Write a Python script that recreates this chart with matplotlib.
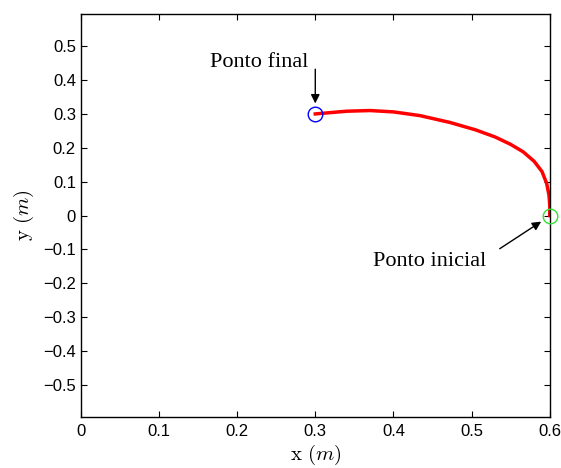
import numpy as np
import matplotlib.pyplot as plt

# trajectory
x_path = [0.600, 0.600, 0.599, 0.596, 0.590, 0.580, 0.566, 0.550, 0.530, 0.505,
          0.472, 0.434, 0.400, 0.370, 0.340, 0.315, 0.300]
y_path = [0.000, 0.030, 0.060, 0.095, 0.130, 0.160, 0.188, 0.210, 0.232, 0.253,
          0.275, 0.295, 0.306, 0.310, 0.308, 0.303, 0.300]
start = (0.6, 0.0)
end = (0.3, 0.3)
xticks = [0, 0.1, 0.2, 0.3, 0.4, 0.5, 0.6]
yticks = [-0.5, -0.4, -0.3, -0.2, -0.1, 0, 0.1, 0.2, 0.3, 0.4, 0.5]

plt.rcParams['mathtext.fontset'] = 'cm'

fig = plt.figure(figsize=(5.61, 4.68), dpi=100)
ax = fig.add_axes([0.144, 0.109, 0.836, 0.861])

ax.plot(x_path, y_path, color='red', linewidth=2.5)
ax.plot(start[0], start[1], 'o', mfc='none', mec='#33e033', ms=10.5, mew=1, clip_on=False, zorder=5)
ax.plot(end[0], end[1], 'o', mfc='none', mec='blue', ms=10.5, mew=1, clip_on=False, zorder=5)

serif = 'Liberation Serif'
arrow = dict(arrowstyle='-|>', color='black', lw=1, mutation_scale=13, shrinkA=0, shrinkB=0)

ax.text(0.228, 0.438, 'Ponto final', ha='center', va='baseline', fontsize=16, family=serif)
ax.annotate('', xy=(0.3, 0.331), xytext=(0.3, 0.432), arrowprops=arrow)

ax.text(0.4465, -0.148, 'Ponto inicial', ha='center', va='baseline', fontsize=16, family=serif)
ax.annotate('', xy=(0.589, -0.018), xytext=(0.536, -0.098), arrowprops=arrow)

ax.set_xlim(0, 0.6)
ax.set_ylim(-0.595, 0.595)
ax.set_xticks(xticks)
ax.set_yticks(yticks)
ax.set_xticklabels(['0' if t == 0 else str(t) for t in xticks], family='Liberation Sans', fontsize=12)
ax.set_yticklabels(['0' if t == 0 else str(t).replace('-', '\u2212') for t in yticks],
                   family='Liberation Sans', fontsize=12)
ax.tick_params(direction='in', length=4, top=True, right=True, width=0.8)
ax.tick_params(axis='x', pad=5)
for s in ax.spines.values():
    s.set_linewidth(1.0)

ax.set_xlabel(r'$\mathrm{x}\ (m)$', fontsize=15, labelpad=3)
ax.set_ylabel(r'$\mathrm{y}\ (m)$', fontsize=15, labelpad=5)

fig.savefig('out.png', dpi=100)
